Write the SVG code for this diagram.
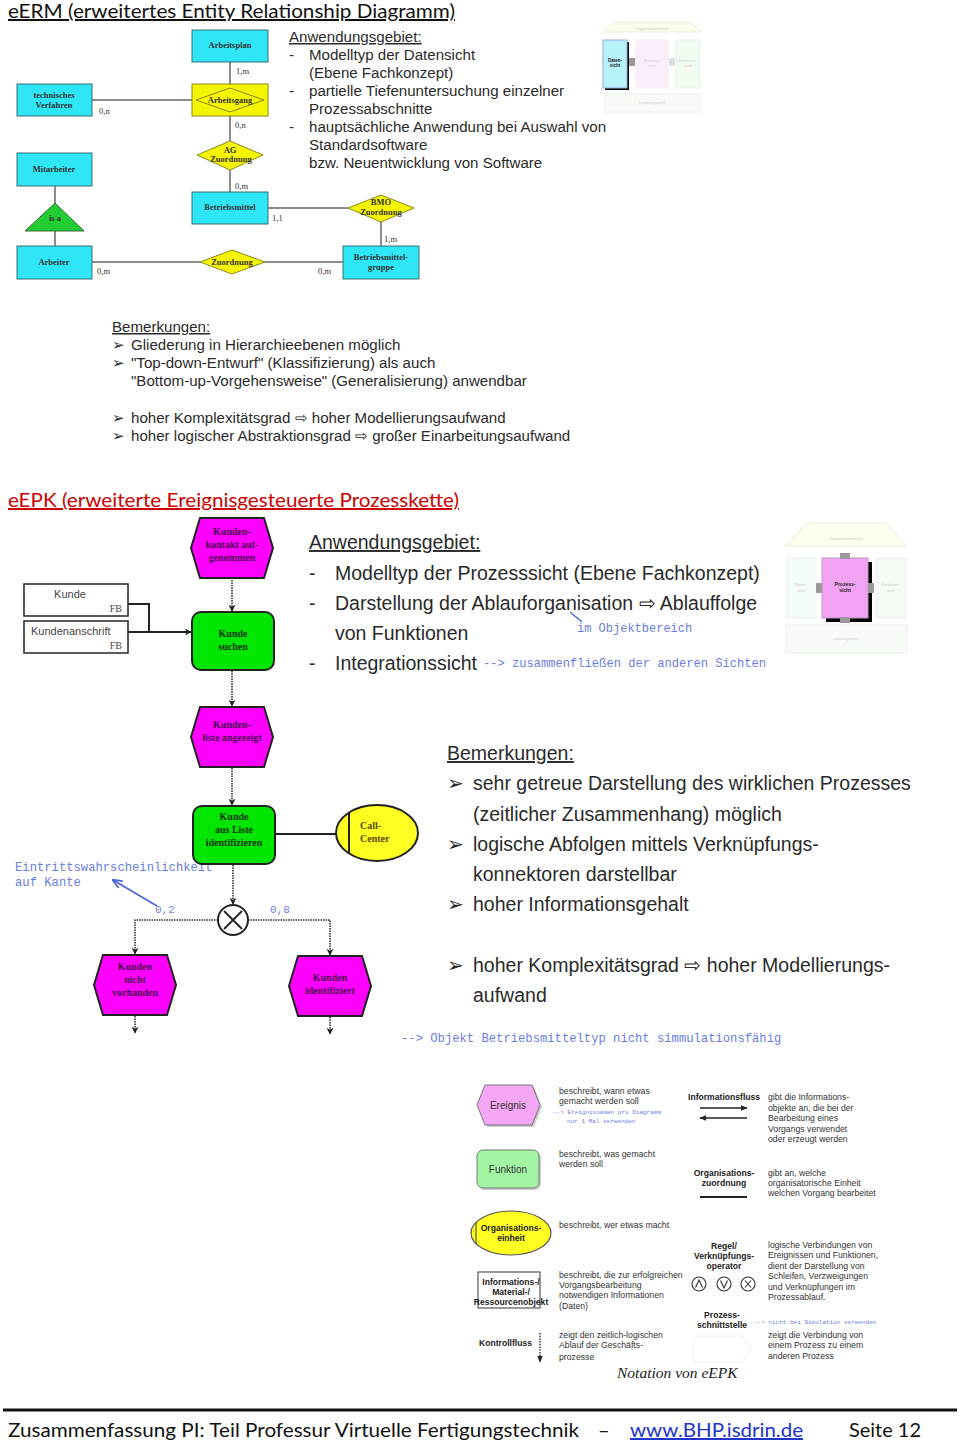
<svg xmlns="http://www.w3.org/2000/svg" width="960" height="1448" viewBox="0 0 960 1448">
<style>
.h1{font-family:Lato,"Liberation Sans",sans-serif;font-size:20px;text-decoration:underline}
.t14{font-family:"Liberation Sans",Arial,sans-serif;font-size:15.1px;fill:#2a2a2a}
.t18{font-family:"Liberation Sans",Arial,sans-serif;font-size:19.5px;fill:#2a2a2a}
.sm{font-family:"Liberation Sans",Arial,sans-serif;font-size:8.7px;fill:#333}
.smb{font-family:"Liberation Sans",Arial,sans-serif;font-size:8.6px;fill:#222;font-weight:bold}
.mono{font-family:"Liberation Mono",monospace;fill:#6a7ee0}
.er{font-family:"Liberation Serif",serif;font-size:8.5px;font-weight:bold;fill:#333;text-anchor:middle}
.erl{font-family:"Liberation Serif",serif;font-size:8.5px;fill:#333}
.ent{fill:#2ee6f5;stroke:#3a6f78;stroke-width:1}
.rel{fill:#f5f500;stroke:#8a8a20;stroke-width:1}
.ln{stroke:#666;stroke-width:1.5;fill:none}
.ev{fill:#ff00ff;stroke:#222;stroke-width:2}
.fn{fill:#00e600;stroke:#222;stroke-width:2}
.evt{font-family:"Liberation Serif",serif;font-size:10px;font-weight:bold;fill:#4a0050;text-anchor:middle}
.fnt{font-family:"Liberation Serif",serif;font-size:10px;font-weight:bold;fill:#0a3300;text-anchor:middle}
.cf{stroke:#333;stroke-width:1.6;stroke-dasharray:1.5 1;fill:none}
.sol{stroke:#222;stroke-width:2;fill:none}
.faint{font-family:"Liberation Sans",Arial,sans-serif;font-size:4px;fill:#ccc;text-anchor:middle}
</style>
<defs>
<marker id="ah" viewBox="0 0 10 10" refX="9" refY="5" markerWidth="7" markerHeight="7" orient="auto-start-reverse" markerUnits="userSpaceOnUse">
<path d="M0,0 L10,5 L0,10 L3,5 Z" fill="#222"/>
</marker>
<marker id="ahb" viewBox="0 0 10 10" refX="9" refY="5" markerWidth="10" markerHeight="10" orient="auto-start-reverse" markerUnits="userSpaceOnUse">
<path d="M0,1 L10,5 L0,9" fill="none" stroke="#4a64d8" stroke-width="1.6"/>
</marker>
<marker id="ahs" viewBox="0 0 10 10" refX="9" refY="5" markerWidth="7" markerHeight="7" orient="auto" markerUnits="userSpaceOnUse">
<path d="M0,1 L10,5 L0,9 Z" fill="#222"/>
</marker>
</defs>
<rect width="960" height="1448" fill="#fff"/>

<!-- Header eERM -->
<text class="h1" x="8" y="18" fill="#111" textLength="447" lengthAdjust="spacingAndGlyphs">eERM (erweitertes Entity Relationship Diagramm)</text>

<!-- eERM connectors -->
<g id="erm-connectors">
<line class="ln" x1="230" y1="62" x2="230" y2="84"/>
<line class="ln" x1="92" y1="100" x2="206" y2="100"/>
<line class="ln" x1="230" y1="116" x2="230" y2="141"/>
<line class="ln" x1="230" y1="170" x2="230" y2="192"/>
<line class="ln" x1="268" y1="208" x2="348" y2="208"/>
<line class="ln" x1="381" y1="222" x2="381" y2="246"/>
<line class="ln" x1="55" y1="186" x2="55" y2="203"/>
<line class="ln" x1="55" y1="231" x2="55" y2="246"/>
<line class="ln" x1="92" y1="262" x2="200" y2="262"/>
<line class="ln" x1="265" y1="262" x2="343" y2="262"/>
<text class="erl" x="236" y="74">1,m</text>
<text class="erl" x="99" y="114">0,n</text>
<text class="erl" x="235" y="128">0,n</text>
<text class="erl" x="235" y="189">0,m</text>
<text class="erl" x="272" y="221">1,1</text>
<text class="erl" x="384" y="242">1,m</text>
<text class="erl" x="97" y="274">0,m</text>
<text class="erl" x="318" y="274">0,m</text>
</g>

<g id="arbeitsplan"><rect class="ent" x="192" y="30" width="76" height="32"/><text class="er" x="230" y="48">Arbeitsplan</text></g>
<g id="arbeitsgang"><rect class="rel" x="192" y="84" width="76" height="32"/><polygon points="196,100 230,88 264,100 230,112" fill="none" stroke="#8a8a20"/><text class="er" x="230" y="103">Arbeitsgang</text></g>
<g id="techverfahren"><rect class="ent" x="17" y="84" width="75" height="32"/><text class="er" x="54" y="98">technisches</text><text class="er" x="54" y="108">Verfahren</text></g>
<g id="ag-zuordnung"><polygon class="rel" points="197,155 230,141 263,155 230,170"/><text class="er" x="230" y="153">AG</text><text class="er" x="231" y="162">Zuordnung</text></g>
<g id="betriebsmittel"><rect class="ent" x="192" y="192" width="76" height="32"/><text class="er" x="230" y="210">Betriebsmittel</text></g>
<g id="bmo-zuordnung"><polygon class="rel" points="348,208 381,195 414,208 381,222"/><text class="er" x="381" y="205">BMO</text><text class="er" x="381" y="215">Zuordnung</text></g>
<g id="bmgruppe"><rect class="ent" x="343" y="246" width="76" height="33"/><text class="er" x="381" y="260">Betriebsmittel-</text><text class="er" x="381" y="270">gruppe</text></g>
<g id="mitarbeiter"><rect class="ent" x="17" y="153" width="75" height="33"/><text class="er" x="54" y="172">Mitarbeiter</text></g>
<g id="isa"><polygon points="55,203 84,231 25,231" fill="#22cc33" stroke="#3a6a3a"/><text class="er" x="55" y="221">is a</text></g>
<g id="arbeiter"><rect class="ent" x="17" y="246" width="75" height="33"/><text class="er" x="54" y="265">Arbeiter</text></g>
<g id="zuordnung"><polygon class="rel" points="200,262 232,250 265,262 232,274"/><text class="er" x="232" y="265">Zuordnung</text></g>

<!-- eERM Anwendungsgebiet -->
<g id="erm-anwendung">
<text class="t14" x="289" y="42" text-decoration="underline">Anwendungsgebiet:</text>
<text class="t14" x="289" y="60">-</text><text class="t14" x="309" y="60">Modelltyp der Datensicht</text>
<text class="t14" x="309" y="78">(Ebene Fachkonzept)</text>
<text class="t14" x="289" y="96">-</text><text class="t14" x="309" y="96">partielle Tiefenuntersuchung einzelner</text>
<text class="t14" x="309" y="114">Prozessabschnitte</text>
<text class="t14" x="289" y="132">-</text><text class="t14" x="309" y="132">hauptsächliche Anwendung bei Auswahl von</text>
<text class="t14" x="309" y="150">Standardsoftware</text>
<text class="t14" x="309" y="168">bzw. Neuentwicklung von Software</text>
</g>

<!-- eERM thumbnail -->
<g id="erm-thumb">
<polygon points="604,32 616,22 690,22 702,32" fill="#fbfbee" stroke="#eeeedd"/>
<text class="faint" x="652" y="30">Organisationssicht</text>
<rect x="605" y="42" width="24" height="48" fill="#000"/>
<rect x="603" y="40" width="24" height="48" fill="#b6f2fa" stroke="#9ad"/>
<text x="615" y="62" font-family="Liberation Sans,sans-serif" font-size="4.5" font-weight="bold" text-anchor="middle" fill="#222">Daten-</text>
<text x="615" y="67" font-family="Liberation Sans,sans-serif" font-size="4.5" font-weight="bold" text-anchor="middle" fill="#222">sicht</text>
<rect x="629" y="58" width="6" height="8" fill="#999"/>
<rect x="636" y="40" width="32" height="48" fill="#fbeefb" stroke="#eee"/>
<text class="faint" x="652" y="62">Prozess-</text><text class="faint" x="652" y="67">sicht</text>
<rect x="669" y="58" width="6" height="8" fill="#ddd"/>
<rect x="676" y="40" width="24" height="48" fill="#f2fbf2" stroke="#eee"/>
<text class="faint" x="688" y="62">Funktions-</text><text class="faint" x="688" y="67">sicht</text>
<rect x="605" y="94" width="96" height="18" fill="#f6fbf6" stroke="#eee"/>
<text class="faint" x="652" y="104">Leistungssicht</text>
</g>

<!-- eERM Bemerkungen -->
<g id="erm-bemerkungen">
<text class="t14" x="112" y="332" text-decoration="underline">Bemerkungen:</text>
<text class="t14" x="112" y="350">➢</text><text class="t14" x="131" y="350">Gliederung in Hierarchieebenen möglich</text>
<text class="t14" x="112" y="368">➢</text><text class="t14" x="131" y="368">"Top-down-Entwurf" (Klassifizierung) als auch</text>
<text class="t14" x="131" y="386">"Bottom-up-Vorgehensweise" (Generalisierung) anwendbar</text>
<text class="t14" x="112" y="423">➢</text><text class="t14" x="131" y="423">hoher Komplexitätsgrad ⇨ hoher Modellierungsaufwand</text>
<text class="t14" x="112" y="441">➢</text><text class="t14" x="131" y="441">hoher logischer Abstraktionsgrad ⇨ großer Einarbeitungsaufwand</text>
</g>

<!-- eEPK header -->
<text class="h1" x="8" y="507" fill="#cc0000" textLength="451" lengthAdjust="spacingAndGlyphs">eEPK (erweiterte Ereignisgesteuerte Prozesskette)</text>

<!-- eEPK connectors -->
<g id="epk-connectors">
<line class="cf" x1="232" y1="580" x2="232" y2="611" marker-end="url(#ah)"/>
<polyline class="sol" points="128,604 149,604 149,632" stroke-width="1.6"/>
<line class="sol" x1="128" y1="632" x2="191" y2="632" stroke-width="1.6" marker-end="url(#ah)"/>
<line class="cf" x1="232" y1="671" x2="232" y2="706" marker-end="url(#ah)"/>
<line class="cf" x1="232" y1="768" x2="232" y2="805" marker-end="url(#ah)"/>
<line class="sol" x1="275" y1="834" x2="336" y2="834"/>
<line class="cf" x1="233" y1="865" x2="233" y2="904" marker-end="url(#ah)"/>
<polyline class="cf" points="218,920 135,920 135,954" marker-end="url(#ah)"/>
<polyline class="cf" points="248,920 330,920 330,955" marker-end="url(#ah)"/>
<line class="cf" x1="135" y1="1016" x2="135" y2="1033" marker-end="url(#ah)"/>
<line class="cf" x1="330" y1="1017" x2="330" y2="1034" marker-end="url(#ah)"/>
<text class="mono" x="155" y="913" font-size="11">0,2</text>
<text class="mono" x="270" y="913" font-size="11">0,8</text>
<text class="mono" x="15" y="871" font-size="12.2">Eintrittswahrscheinlichkeit</text>
<text class="mono" x="15" y="886" font-size="12.2">auf Kante</text>
<line x1="157" y1="906" x2="113" y2="880" stroke="#4a64d8" stroke-width="1.6" marker-end="url(#ahb)"/>
</g>

<g id="ev-kontakt"><polygon class="ev" points="200,518 264,518 273,548 264,578 200,578 191,548"/><text class="evt" x="232" y="535">Kunden-</text><text class="evt" x="232" y="548">kontakt auf-</text><text class="evt" x="232" y="561">genommen</text></g>
<g id="ir-kunde"><rect x="24" y="584" width="104" height="32" fill="#fff" stroke="#333" stroke-width="1.6"/><text x="70" y="598" font-family="Liberation Sans,sans-serif" font-size="11" fill="#444" text-anchor="middle">Kunde</text><text x="122" y="612" font-family="Liberation Serif,serif" font-size="10" fill="#444" text-anchor="end">FB</text></g>
<g id="ir-anschrift"><rect x="24" y="621" width="104" height="32" fill="#fff" stroke="#333" stroke-width="1.6"/><text x="31" y="635" font-family="Liberation Sans,sans-serif" font-size="11" fill="#444">Kundenanschrift</text><text x="122" y="649" font-family="Liberation Serif,serif" font-size="10" fill="#444" text-anchor="end">FB</text></g>
<g id="fn-suchen"><rect class="fn" x="192" y="612" width="82" height="58" rx="9"/><text class="fnt" x="233" y="637">Kunde</text><text class="fnt" x="233" y="650">suchen</text></g>
<g id="ev-liste"><polygon class="ev" points="200,707 264,707 273,737 264,767 200,767 191,737"/><text class="evt" x="232" y="728">Kunden-</text><text class="evt" x="232" y="741">liste angezeigt</text></g>
<g id="fn-ident"><rect class="fn" x="193" y="806" width="82" height="58" rx="9"/><text class="fnt" x="234" y="820">Kunde</text><text class="fnt" x="234" y="833">aus Liste</text><text class="fnt" x="234" y="846">identifizieren</text></g>
<g id="org-callcenter"><ellipse cx="377" cy="833" rx="41" ry="28" fill="#ffff22" stroke="#222" stroke-width="2"/><line x1="349" y1="813" x2="349" y2="853" stroke="#222" stroke-width="2"/><text x="360" y="829" font-family="Liberation Serif,serif" font-size="10" font-weight="bold" fill="#5a4a00">Call-</text><text x="360" y="842" font-family="Liberation Serif,serif" font-size="10" font-weight="bold" fill="#5a4a00">Center</text></g>
<g id="xor"><circle cx="233" cy="920" r="15" fill="#fff" stroke="#222" stroke-width="2"/><path d="M224,911 L242,929 M242,911 L224,929" stroke="#222" stroke-width="1.8"/></g>
<g id="ev-nicht"><polygon class="ev" points="103,955 167,955 176,985 167,1015 103,1015 94,985"/><text class="evt" x="135" y="970">Kunden</text><text class="evt" x="135" y="983">nicht</text><text class="evt" x="135" y="996">vorhanden</text></g>
<g id="ev-identifiziert"><polygon class="ev" points="298,956 362,956 371,986 362,1016 298,1016 289,986"/><text class="evt" x="330" y="981">Kunden</text><text class="evt" x="330" y="994">identifiziert</text></g>

<!-- eEPK Anwendungsgebiet -->
<g id="epk-anwendung">
<text class="t18" x="309" y="549" text-decoration="underline">Anwendungsgebiet:</text>
<text class="t18" x="309" y="580">-</text><text class="t18" x="335" y="580">Modelltyp der Prozesssicht (Ebene Fachkonzept)</text>
<text class="t18" x="309" y="610">-</text><text class="t18" x="335" y="610">Darstellung der Ablauforganisation ⇨ Ablauffolge</text>
<text class="t18" x="335" y="640">von Funktionen</text>
<text class="t18" x="309" y="670">-</text><text class="t18" x="335" y="670">Integrationssicht</text>
<text class="mono" x="483" y="667" font-size="12.1">--&gt; zusammenfließen der anderen Sichten</text>
<text class="mono" x="577" y="632" font-size="12">im Objektbereich</text>
<line x1="582" y1="622" x2="570" y2="612" stroke="#4a64d8" stroke-width="1.4"/>
</g>

<!-- eEPK thumbnail -->
<g id="epk-thumb">
<polygon points="786,546 806,523 886,523 906,546" fill="#fcfcef" stroke="#eeeedd"/>
<text class="faint" x="846" y="540" font-size="5">Organisationssicht</text>
<rect x="787" y="558" width="28" height="60" fill="#f4fbfc" stroke="#eee"/>
<text class="faint" x="801" y="586">Daten-</text><text class="faint" x="801" y="592">sicht</text>
<rect x="826" y="562" width="46" height="60" fill="#000"/>
<rect x="822" y="558" width="46" height="60" fill="#f2a2f2" stroke="#b9b"/>
<text x="845" y="586" font-family="Liberation Sans,sans-serif" font-size="5" font-weight="bold" text-anchor="middle" fill="#222">Prozess-</text>
<text x="845" y="592" font-family="Liberation Sans,sans-serif" font-size="5" font-weight="bold" text-anchor="middle" fill="#222">sicht</text>
<rect x="840" y="553" width="10" height="6" fill="#999"/>
<rect x="840" y="617" width="10" height="6" fill="#999"/>
<rect x="816" y="583" width="6" height="10" fill="#999"/>
<rect x="868" y="583" width="6" height="10" fill="#999"/>
<rect x="876" y="558" width="30" height="60" fill="#f3fbf3" stroke="#eee"/>
<text class="faint" x="891" y="586">Funktions-</text><text class="faint" x="891" y="592">sicht</text>
<rect x="786" y="625" width="121" height="28" fill="#f6fbf6" stroke="#eee"/>
<text class="faint" x="846" y="640" font-size="5">Leistungssicht</text>
</g>

<!-- eEPK Bemerkungen -->
<g id="epk-bemerkungen">
<text class="t18" x="447" y="760" text-decoration="underline">Bemerkungen:</text>
<text class="t18" x="447" y="790">➢</text><text class="t18" x="473" y="790">sehr getreue Darstellung des wirklichen Prozesses</text>
<text class="t18" x="473" y="821">(zeitlicher Zusammenhang) möglich</text>
<text class="t18" x="447" y="851">➢</text><text class="t18" x="473" y="851">logische Abfolgen mittels Verknüpfungs-</text>
<text class="t18" x="473" y="881">konnektoren darstellbar</text>
<text class="t18" x="447" y="911">➢</text><text class="t18" x="473" y="911">hoher Informationsgehalt</text>
<text class="t18" x="447" y="972">➢</text><text class="t18" x="473" y="972">hoher Komplexitätsgrad ⇨ hoher Modellierungs-</text>
<text class="t18" x="473" y="1002">aufwand</text>
<text class="mono" x="401" y="1042" font-size="12.2">--&gt; Objekt Betriebsmitteltyp nicht simmulationsfähig</text>
</g>

<!-- Legend -->
<g id="legend">
<polygon points="487,1087 534,1087 542,1107 534,1127 487,1127 479,1107" fill="#ccc"/>
<polygon points="485,1085 532,1085 540,1105 532,1125 485,1125 477,1105" fill="#f5a6f5" stroke="#777" stroke-width="1"/>
<text x="508" y="1109" font-family="Liberation Sans,sans-serif" font-size="10" fill="#333" text-anchor="middle">Ereignis</text>
<text class="sm" x="559" y="1094">beschreibt, wann etwas</text>
<text class="sm" x="559" y="1104">gemacht werden soll</text>
<text class="mono" x="553" y="1114" font-size="6">--&gt; Ereignisnamen pro Diagramm</text>
<text class="mono" x="567" y="1123" font-size="6">nur 1 Mal verwenden</text>

<rect x="479" y="1152" width="62" height="38" rx="6" fill="#ccc"/>
<rect x="477" y="1150" width="62" height="38" rx="6" fill="#a2f5a2" stroke="#777"/>
<text x="508" y="1173" font-family="Liberation Sans,sans-serif" font-size="10" fill="#333" text-anchor="middle">Funktion</text>
<text class="sm" x="559" y="1157">beschreibt, was gemacht</text>
<text class="sm" x="559" y="1167">werden soll</text>

<ellipse cx="511" cy="1233" rx="40" ry="22" fill="#ffff22" stroke="#555" stroke-width="1.2"/>
<line x1="476" y1="1222" x2="476" y2="1244" stroke="#555" stroke-width="1.2"/>
<text class="smb" x="511" y="1231" text-anchor="middle">Organisations-</text>
<text class="smb" x="511" y="1241" text-anchor="middle">einheit</text>
<text class="sm" x="559" y="1228">beschreibt, wer etwas macht</text>

<rect x="478" y="1272" width="62" height="36" fill="#fff" stroke="#555" stroke-width="1.2"/>
<text class="smb" x="511" y="1285" text-anchor="middle">Informations-/</text>
<text class="smb" x="511" y="1295" text-anchor="middle">Material-/</text>
<text class="smb" x="511" y="1305" text-anchor="middle">Ressourcenobjekt</text>
<text class="sm" x="559" y="1278">beschreibt, die zur erfolgreichen</text>
<text class="sm" x="559" y="1288">Vorgangsbearbeitung</text>
<text class="sm" x="559" y="1298">notwendigen Informationen</text>
<text class="sm" x="559" y="1309">(Daten)</text>

<text class="smb" x="479" y="1346">Kontrollfluss</text>
<line x1="540" y1="1333" x2="540" y2="1362" stroke="#333" stroke-width="1.4" stroke-dasharray="1.5 1.2" marker-end="url(#ahs)"/>
<text class="sm" x="559" y="1338">zeigt den zeitlich-logischen</text>
<text class="sm" x="559" y="1348">Ablauf der Geschäfts-</text>
<text class="sm" x="559" y="1360">prozesse</text>

<text class="smb" x="688" y="1100">Informationsfluss</text>
<line x1="700" y1="1108" x2="747" y2="1108" stroke="#222" stroke-width="1.4" marker-end="url(#ahs)"/>
<line x1="747" y1="1118" x2="700" y2="1118" stroke="#222" stroke-width="1.4" marker-end="url(#ahs)"/>
<text class="sm" x="768" y="1100">gibt die Informations-</text>
<text class="sm" x="768" y="1111">objekte an, die bei der</text>
<text class="sm" x="768" y="1121">Bearbeitung eines</text>
<text class="sm" x="768" y="1132">Vorgangs verwendet</text>
<text class="sm" x="768" y="1142">oder erzeugt werden</text>

<text class="smb" x="724" y="1176" text-anchor="middle">Organisations-</text>
<text class="smb" x="724" y="1186" text-anchor="middle">zuordnung</text>
<line x1="700" y1="1197" x2="747" y2="1197" stroke="#222" stroke-width="2"/>
<text class="sm" x="768" y="1176">gibt an, welche</text>
<text class="sm" x="768" y="1186">organisatorische Einheit</text>
<text class="sm" x="768" y="1196">welchen Vorgang bearbeitet</text>

<text class="smb" x="724" y="1249" text-anchor="middle">Regel/</text>
<text class="smb" x="724" y="1259" text-anchor="middle">Verknüpfungs-</text>
<text class="smb" x="724" y="1269" text-anchor="middle">operator</text>
<circle cx="699" cy="1284" r="7" fill="#fff" stroke="#333" stroke-width="1.1"/>
<path d="M695.5,1287.5 L699,1280 L702.5,1287.5" fill="none" stroke="#333" stroke-width="1.1"/>
<circle cx="724" cy="1284" r="7" fill="#fff" stroke="#333" stroke-width="1.1"/>
<path d="M720.5,1280.5 L724,1288 L727.5,1280.5" fill="none" stroke="#333" stroke-width="1.1"/>
<circle cx="748" cy="1284" r="7" fill="#fff" stroke="#333" stroke-width="1.1"/>
<path d="M745,1280.5 L751,1287.5 M751,1280.5 L745,1287.5" fill="none" stroke="#333" stroke-width="1.1"/>
<text class="sm" x="768" y="1248">logische Verbindungen von</text>
<text class="sm" x="768" y="1258">Ereignissen und Funktionen,</text>
<text class="sm" x="768" y="1269">dient der Darstellung von</text>
<text class="sm" x="768" y="1279">Schleifen, Verzweigungen</text>
<text class="sm" x="768" y="1290">und Verknüpfungen im</text>
<text class="sm" x="768" y="1300">Prozessablauf.</text>

<text class="smb" x="722" y="1318" text-anchor="middle">Prozess-</text>
<text class="smb" x="722" y="1328" text-anchor="middle">schnittstelle</text>
<text class="mono" x="754" y="1324" font-size="6">--&gt; nicht bei Simulation verwenden</text>
<path d="M697,1336 L742,1336 L751,1349 L742,1362 L697,1362 Q693,1362 693,1358 L693,1340 Q693,1336 697,1336 Z" fill="#fff" stroke="#eee" stroke-width="1"/>
<text class="sm" x="768" y="1338">zeigt die Verbindung von</text>
<text class="sm" x="768" y="1348">einem Prozess zu einem</text>
<text class="sm" x="768" y="1359">anderen Prozess</text>

<text x="617" y="1378" font-family="Liberation Serif,serif" font-style="italic" font-size="15.5" fill="#222">Notation von eEPK</text>
</g>

<!-- Footer -->
<g id="footer">
<line x1="3" y1="1410" x2="957" y2="1410" stroke="#111" stroke-width="3"/>
<text x="8" y="1437" font-family="Lato,Liberation Sans,sans-serif" font-size="20" fill="#111" textLength="571" lengthAdjust="spacingAndGlyphs">Zusammenfassung PI: Teil Professur Virtuelle Fertigungstechnik</text>
<text x="598" y="1437" font-family="Lato,Liberation Sans,sans-serif" font-size="20" fill="#111">–</text>
<text x="630" y="1437" font-family="Lato,Liberation Sans,sans-serif" font-size="20" fill="#2233cc" text-decoration="underline" textLength="173" lengthAdjust="spacingAndGlyphs">www.BHP.isdrin.de</text>
<text x="849" y="1437" font-family="Lato,Liberation Sans,sans-serif" font-size="20" fill="#111" textLength="72" lengthAdjust="spacingAndGlyphs">Seite 12</text>
</g>
</svg>
